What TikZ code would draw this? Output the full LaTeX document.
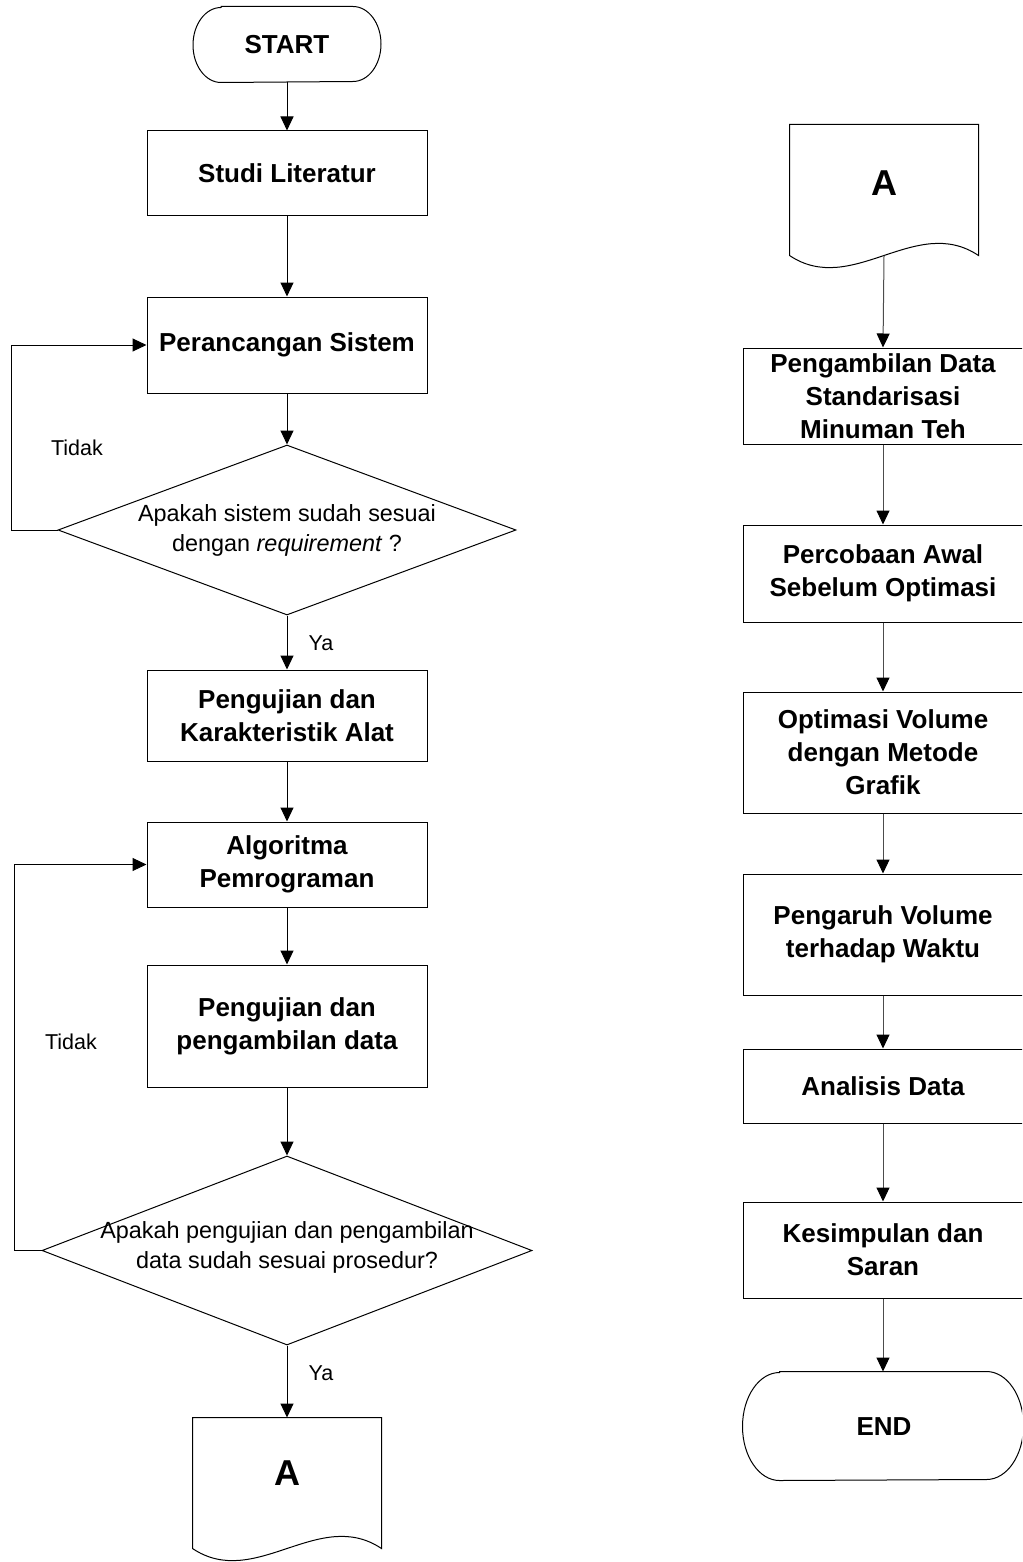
\documentclass[tikz,border=0pt]{standalone}
\usepackage{fontspec}
\setmainfont{Liberation Sans}
\usetikzlibrary{arrows.meta,shapes.geometric}
\begin{document}
\begin{tikzpicture}[x=1pt,y=-1pt,
  line width=1pt,
  procbox/.style={draw, rectangle, minimum width=280pt, inner sep=0pt, align=center, font=\bfseries\fontsize{26}{33}\selectfont},
  decbox/.style={draw, diamond, inner sep=0pt},
  dectext/.style={align=center, font=\fontsize{23.4}{30}\selectfont, inner sep=0pt},
  lbl/.style={font=\fontsize{21.5}{24}\selectfont, inner sep=0pt},
  holder/.style={rectangle, inner sep=0pt},
  bigletter/.style={inner sep=0pt, font=\bfseries\fontsize{36}{40}\selectfont},
  termtext/.style={inner sep=0pt, font=\bfseries\fontsize{26}{30}\selectfont},
  arr/.style={-{Triangle[length=14pt,width=13pt,color=black]}},
  arrg/.style={arr, draw=black!70},
]
\useasboundingbox (0,0) rectangle (1022,1562);
\clip (0,0) rectangle (1022,1562);

% ---------- left column ----------
\node[holder, minimum width=187pt, minimum height=75pt] (start) at (287,44.5) {};
\draw ([xshift=28pt]start.north west) -- ([xshift=-28pt]start.north east)
  arc[start angle=90, end angle=-90, x radius=28pt, y radius=37.5pt]
  -- ([xshift=28pt]start.south west)
  arc[start angle=270, end angle=90, x radius=28pt, y radius=37.5pt] -- cycle;
\node[termtext] (starttext) at (287,45) {START};

\node[procbox, minimum height=85pt] (studi) at (287,173.5) {Studi Literatur};
\node[procbox, minimum height=96pt] (peranc) at (287,345) {Perancangan Sistem};

\node[decbox, minimum width=458pt, minimum height=170pt] (dec1) at (287,530) {};
\node[dectext] (dec1text) at (287,530) {Apakah sistem sudah sesuai\\dengan \textit{requirement} ?};

\node[procbox, minimum height=91pt] (peng1) at (287,715.5) {Pengujian dan\\Karakteristik Alat};
\node[procbox, minimum height=85pt] (algo) at (287,864.5) {Algoritma\\Pemrograman};
\node[procbox, minimum height=122pt] (peng2) at (287,1026) {Pengujian dan\\pengambilan data};

\node[decbox, minimum width=490pt, minimum height=189pt] (dec2) at (287,1250.5) {};
\node[dectext] (dec2text) at (287,1247) {Apakah pengujian dan pengambilan\\data sudah sesuai prosedur?};

\node[holder, minimum width=188pt, minimum height=130pt] (docL) at (287,1483) {};
\draw (docL.north west) -- (docL.north east) -- (docL.south east)
  .. controls ([xshift=-62.7pt,yshift=42pt]docL.south east) and ([xshift=62.7pt,yshift=-42pt]docL.south west) .. (docL.south west) -- cycle;
\node[bigletter] (docLtext) at (287,1473) {A};

\node[lbl] (tidak1) at (77,448) {Tidak};
\node[lbl] (tidak2) at (71,1042) {Tidak};
\node[lbl] (ya1) at (321,643) {Ya};
\node[lbl] (ya2) at (321,1373) {Ya};

\draw[arr] (start.south) -- (studi.north);
\draw[arr] (studi.south) -- (peranc.north);
\draw[arr] (peranc.south) -- (dec1.north);
\draw[arr] (dec1.south) -- (peng1.north);
\draw[arr] (peng1.south) -- (algo.north);
\draw[arr] (algo.south) -- (peng2.north);
\draw[arr] (peng2.south) -- (dec2.north);
\draw[arr] (dec2.south) -- (docL.north);
\draw[arr] (dec1.west) -- ++(-46,0) |- (peranc.west);
\draw[arr] (dec2.west) -- ++(-27,0) |- (algo.west);

% ---------- right column ----------
\node[holder, minimum width=188pt, minimum height=130pt] (docR) at (884,190) {};
\draw (docR.north west) -- (docR.north east) -- (docR.south east)
  .. controls ([xshift=-62.7pt,yshift=42pt]docR.south east) and ([xshift=62.7pt,yshift=-42pt]docR.south west) .. (docR.south west) -- cycle;
\node[bigletter] (docRtext) at (884,183) {A};

\node[procbox, minimum height=96pt] (pd) at (883,396) {Pengambilan Data\\Standarisasi\\Minuman Teh};
\node[procbox, minimum height=97pt] (pa) at (883,573.5) {Percobaan Awal\\Sebelum Optimasi};
\node[procbox, minimum height=121pt] (ov) at (883,752.5) {Optimasi Volume\\dengan Metode\\Grafik};
\node[procbox, minimum height=121pt] (pv) at (883,934.5) {Pengaruh Volume\\terhadap Waktu};
\node[procbox, minimum height=74pt] (ad) at (883,1086) {Analisis Data};
\node[procbox, minimum height=96pt] (ks) at (883,1250) {Kesimpulan dan\\Saran};

\node[holder, minimum width=280pt, minimum height=108pt] (endt) at (883,1426) {};
\draw ([xshift=37pt]endt.north west) -- ([xshift=-37pt]endt.north east)
  arc[start angle=90, end angle=-90, x radius=37pt, y radius=54pt]
  -- ([xshift=37pt]endt.south west)
  arc[start angle=270, end angle=90, x radius=37pt, y radius=54pt] -- cycle;
\node[termtext] (endtext) at (884,1427) {END};

\draw[arrg] (docR.south) -- (pd.north);
\draw[arrg] (pd.south) -- (pa.north);
\draw[arrg] (pa.south) -- (ov.north);
\draw[arrg] (ov.south) -- (pv.north);
\draw[arrg] (pv.south) -- (ad.north);
\draw[arrg] (ad.south) -- (ks.north);
\draw[arrg] (ks.south) -- (endt.north);
\end{tikzpicture}
\end{document}
